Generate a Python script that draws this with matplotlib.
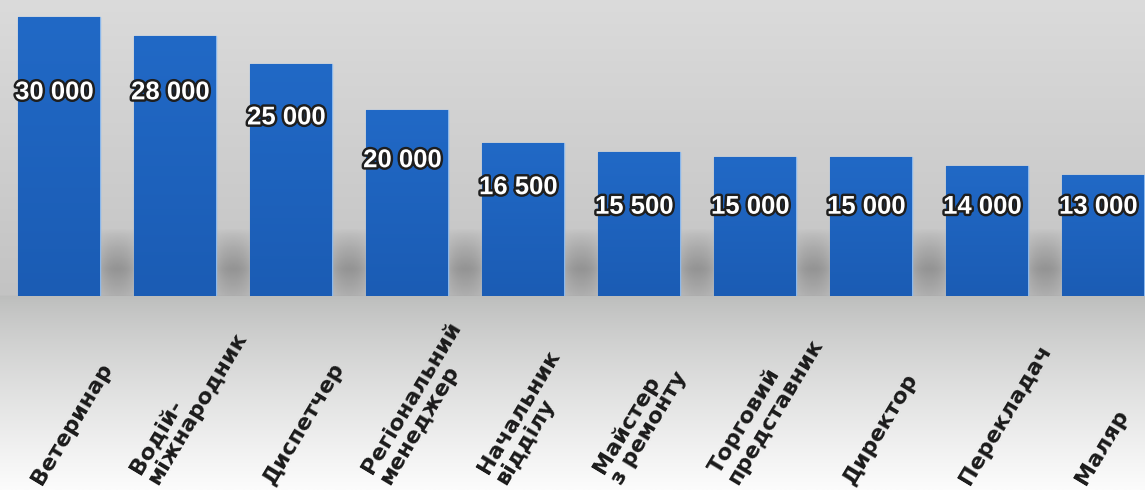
import numpy as np
import matplotlib
matplotlib.use("Agg")
from matplotlib import pyplot as plt
from matplotlib import patheffects as pe
from matplotlib.colors import to_rgb

# Дані діаграми
professions = ["Ветеринар", "Водій-\nміжнародник", "Диспетчер", "Регіональний\nменеджер",
               "Начальник\nвідділу", "Майстер\nз ремонту", "Торговий\nпредставник",
               "Директор", "Перекладач", "Маляр"]
salaries = [30000, 28000, 25000, 20000, 16500, 15500, 15000, 15000, 14000, 13000]
# висота підписів значень (в одиницях осі y)
label_y = [21900, 21900, 19200, 14600, 11700, 9600, 9600, 9600, 9600, 9600]

W, H = 1145, 490
fig = plt.figure(figsize=(W / 100, H / 100), dpi=100)

# ---- фон з градієнтом ----
bg = fig.add_axes([0, 0, 1, 1], zorder=0)
split = 296
top = np.linspace(0, 1, split)[:, None]
c1, c2 = np.array(to_rgb("#dbdbdb")), np.array(to_rgb("#c3c3c3"))
upper = c1 + (c2 - c1) * top
low = np.linspace(0, 1, H - split)[:, None] ** 0.8
c3, c4 = np.array(to_rgb("#bcbdbc")), np.array(to_rgb("#fcfcfc"))
lower = c3 + (c4 - c3) * low
grad = np.vstack([upper, lower])[:, None, :] * np.ones((1, 2, 1))
bg.imshow(grad, aspect="auto", extent=(0, 1, 0, 1))
bg.axis("off")

# ---- основні осі ----
ax = fig.add_axes([0, (H - split) / H, 1, split / H], zorder=1)
ax.patch.set_alpha(0)
pitch, first = 116, 59
ax.set_xlim(-first / pitch, (W - first) / pitch)
ax.set_ylim(0, split / 0.0093)
ax.axis("off")

x = np.arange(len(salaries))
width = 0.70

# тіні між стовпчиками (м'яка сіра пляма внизу проміжку)
yy = np.linspace(0, 1, 60)[:, None]
xx = np.linspace(0, 1, 40)[None, :]
alpha = np.clip(1 - np.abs(yy - 0.4) / 0.6, 0, 1) ** 0.8
alpha = alpha * np.sin(np.pi * (0.1 + 0.8 * xx)) ** 0.5 * 0.55
shadow = np.zeros((60, 40, 4))
shadow[..., :3] = 0.42
shadow[..., 3] = alpha
for i in x[1:]:
    ax.imshow(shadow, extent=(i - 1 + width / 2, i - width / 2, 0, 7300),
              aspect="auto", origin="lower", zorder=1, interpolation="bilinear")

bars = ax.bar(x, salaries, width=width, color="#1c62c0", edgecolor="#8bb8ec",
              linewidth=1.0, zorder=2)

# градієнт усередині стовпчиків
bar_grad = np.linspace(0, 1, 100)[:, None, None]
b1, b2 = np.array(to_rgb("#1b5cb4")), np.array(to_rgb("#2169c6"))
bar_img = (b1 + (b2 - b1) * bar_grad) * np.ones((1, 2, 1))
for b in bars:
    im = ax.imshow(bar_img, extent=(b.get_x(), b.get_x() + b.get_width(), 0, b.get_height()),
                   aspect="auto", origin="lower", zorder=2.5)
    im.set_clip_path(b)

# підписи значень
for i, v in enumerate(salaries):
    ax.text(i - 0.04, label_y[i], f"{v:,}".replace(",", " "), ha="center", va="center",
            fontsize=18.5, fontweight="bold", family="Liberation Sans", color="white",
            zorder=4, path_effects=[pe.Stroke(linewidth=3.5, foreground="#1e1e1e"), pe.Normal()])

# підписи категорій
trans = ax.get_xaxis_transform()
for i, name in enumerate(professions):
    ax.text(i - 0.12, (split - 488) / split, name, rotation=59, rotation_mode="anchor",
            ha="left", va="bottom", multialignment="left", fontsize=16, fontweight="bold",
            family="DejaVu Sans", color="#1a1a1a", linespacing=1.05, transform=trans,
            clip_on=False)

fig.savefig("out.png", dpi=100)
